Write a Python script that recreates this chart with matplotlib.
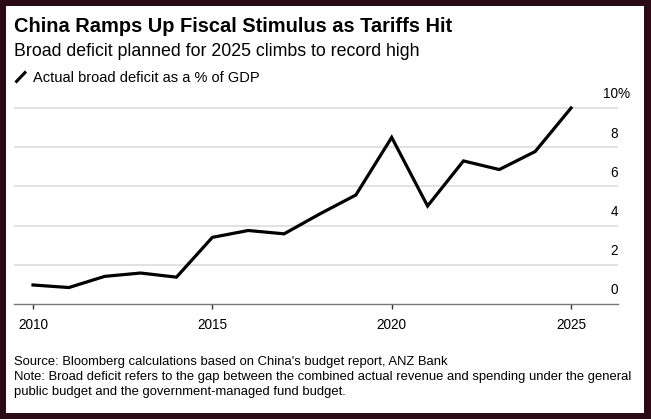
import matplotlib
matplotlib.use("Agg")
import matplotlib.pyplot as plt
from matplotlib.patches import Rectangle
from matplotlib.lines import Line2D
from matplotlib.transforms import offset_copy

years = list(range(2010, 2026))
deficit = [0.97, 0.84, 1.41, 1.58, 1.37, 3.40, 3.75, 3.58, 4.60, 5.56,
           8.50, 5.00, 7.30, 6.86, 7.78, 10.0]
y_ticks = [0, 2, 4, 6, 8, 10]
x_ticks = [2010, 2015, 2020, 2025]

title = "China Ramps Up Fiscal Stimulus as Tariffs Hit"
subtitle = "Broad deficit planned for 2025 climbs to record high"
legend_label = "Actual broad deficit as a % of GDP"
footer_lines = [
    "Source: Bloomberg calculations based on China's budget report, ANZ Bank",
    "Note: Broad deficit refers to the gap between the combined actual revenue and spending under the general",
    "public budget and the government-managed fund budget.",
]

W, H = 651, 419
plt.rcParams['font.family'] = ['Liberation Sans', 'DejaVu Sans']
fig = plt.figure(figsize=(W / 100, H / 100), dpi=100)
fig.patch.set_facecolor('#2a0a15')


def fx(px):
    return px / W


def fy(py):
    return 1 - py / H


# white panel inside the dark frame
fig.patches.append(Rectangle((fx(6), fy(413)), fx(644) - fx(6), fy(6) - fy(413),
                             transform=fig.transFigure, facecolor='white',
                             edgecolor='none', zorder=-10))

left, right, top, bottom = 14, 618, 100, 304
ax = fig.add_axes([fx(left), fy(bottom), fx(right) - fx(left), fy(top) - fy(bottom)])
ax.set_zorder(1)
ax.set_facecolor('none')
ymax = 10 + (108 - top) / 19.6
ax.set_ylim(0, ymax)
px_per_year = 35.87
x0 = 2010 - (33 - left) / px_per_year
x1 = x0 + (right - left) / px_per_year
ax.set_xlim(x0, x1)

for t in y_ticks[1:]:
    ax.axhline(t, color='#e2e2e2', lw=1.4, zorder=1)
ax.plot(years, deficit, color='black', lw=2.3, zorder=3, clip_on=False,
        solid_joinstyle='miter')

for s in ['top', 'right', 'left']:
    ax.spines[s].set_visible(False)
ax.spines['bottom'].set_color('#777777')
ax.spines['bottom'].set_linewidth(1.0)
ax.set_yticks([])
ax.set_xticks(x_ticks)
ax.set_xticklabels([str(x) for x in x_ticks], fontsize=9.8)
ax.tick_params(axis='x', length=3.8, width=1, color='#333333', pad=6.5)

# y labels sit above their gridlines, right-aligned at the end of the axis
ytrans = offset_copy(ax.get_yaxis_transform(), fig=fig, x=0, y=6.9, units='points')
for t in y_ticks:
    ax.text(1.0, t, str(t), transform=ytrans, ha='right', va='baseline',
            fontsize=9.8, color='black')
ax.text(1.0, y_ticks[-1], '%', transform=ytrans, ha='left', va='baseline',
        fontsize=9.8, color='black')

fig.text(fx(14), fy(31.5), title, fontsize=14.4, fontweight='bold', va='baseline', ha='left')
fig.text(fx(14), fy(56.5), subtitle, fontsize=12.8, va='baseline', ha='left')
fig.lines.append(Line2D([fx(15.5), fx(26)], [fy(82.5), fy(71.5)], transform=fig.transFigure,
                        color='black', lw=2.2, solid_capstyle='butt'))
fig.text(fx(33), fy(82), legend_label, fontsize=10.5, va='baseline', ha='left')
for i, line in enumerate(footer_lines):
    fig.text(fx(14), fy(365 + 15 * i), line, fontsize=9.4, va='baseline', ha='left')

fig.savefig('out.png', dpi=100, facecolor=fig.get_facecolor())
